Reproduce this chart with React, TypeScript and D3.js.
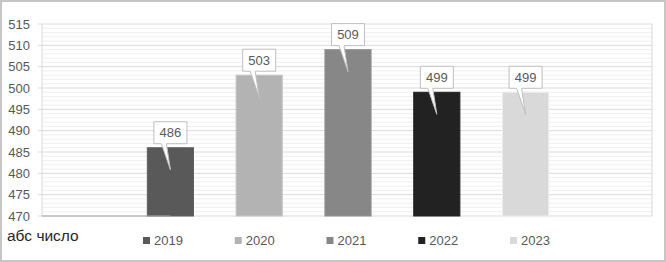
import React from "react";
import * as d3 from "d3";

const years = ["2019", "2020", "2021", "2022", "2023"];
const values = [486, 503, 509, 499, 499];
const colors = ["#595959", "#b3b3b3", "#878787", "#222222", "#d9d9d9"];
const yTicks = [470, 475, 480, 485, 490, 495, 500, 505, 510, 515];
const legendTitle = "абс число";

const W = 666;
const H = 262;
const FONT = "'Liberation Sans', Arial, sans-serif";

export default function App() {
  const left = 42, right = 652, top = 24, bottom = 216;
  const y = d3.scaleLinear().domain([470, 515]).range([bottom, top]);
  const x = d3.scaleBand<string>().domain(years).range([126, 570]).paddingInner(0.48).paddingOuter(0.24);
  const minor = d3.range(470, 516, 1).filter((v) => v % 5 !== 0);
  const legendX = d3.scalePoint<string>().domain(years).range([143, 510]);

  return (
    <svg width={W} height={H} style={{ position: "absolute", left: 0, top: 0, background: "#fff" }} fontFamily={FONT}>
      <rect x={1} y={1} width={W - 2} height={H - 2} fill="#fff" stroke="#c6c6c6" strokeWidth={2} />
      {minor.map((v) => (
        <line key={"m" + v} x1={left} x2={right} y1={y(v)} y2={y(v)} stroke="#efefef" strokeWidth={1} />
      ))}
      {yTicks.map((v) => (
        <g key={"t" + v}>
          <line x1={left - 4} x2={right} y1={y(v)} y2={y(v)} stroke="#d9d9d9" strokeWidth={1} />
          <text x={30} y={y(v)} dy="0.35em" textAnchor="end" fontSize={13} fill="#595959">{v}</text>
        </g>
      ))}
      <line x1={left} x2={left} y1={top} y2={bottom} stroke="#d9d9d9" />
      <line x1={right} x2={right} y1={top} y2={bottom} stroke="#d9d9d9" />
      {years.map((yr, i) => {
        const bx = x(yr)!;
        const bw = x.bandwidth();
        const yt = y(values[i]);
        return (
          <rect key={"b" + yr} x={bx} y={yt} width={bw} height={bottom - yt} fill={colors[i]} stroke={d3.color(colors[i])!.brighter(0.25).toString()} strokeWidth={1} />
        );
      })}
      <line x1={left} x2={x("2019")! + x.bandwidth() / 2} y1={bottom} y2={bottom} stroke="#a6a6a6" />
      {years.map((yr, i) => {
        const cx = x(yr)! + x.bandwidth() / 2;
        const yt = y(values[i]);
        const bw = 33, bh = 22;
        const bx = cx - bw / 2;
        const by = yt - 4 - bh;
        const bb = by + bh;
        const path = `M${bx},${by} H${bx + bw} V${bb} H${cx - 4} L${cx},${yt + 22} L${cx - 9},${bb} H${bx} Z`;
        return (
          <g key={"c" + yr}>
            <path d={path} fill="#fff" stroke="#bfbfbf" strokeWidth={1} />
            <text x={cx} y={by + bh / 2} dy="0.36em" textAnchor="middle" fontSize={13} fill="#595959">{values[i]}</text>
          </g>
        );
      })}
      <text x={7} y={241} fontSize={15.5} fill="#262626">{legendTitle}</text>
      {years.map((yr, i) => {
        const lx = legendX(yr)!;
        return (
          <g key={"l" + yr}>
            <rect x={lx} y={237} width={7} height={7} fill={colors[i]} />
            <text x={lx + 11} y={240.5} dy="0.35em" fontSize={13} fill="#595959">{yr}</text>
          </g>
        );
      })}
    </svg>
  );
}
